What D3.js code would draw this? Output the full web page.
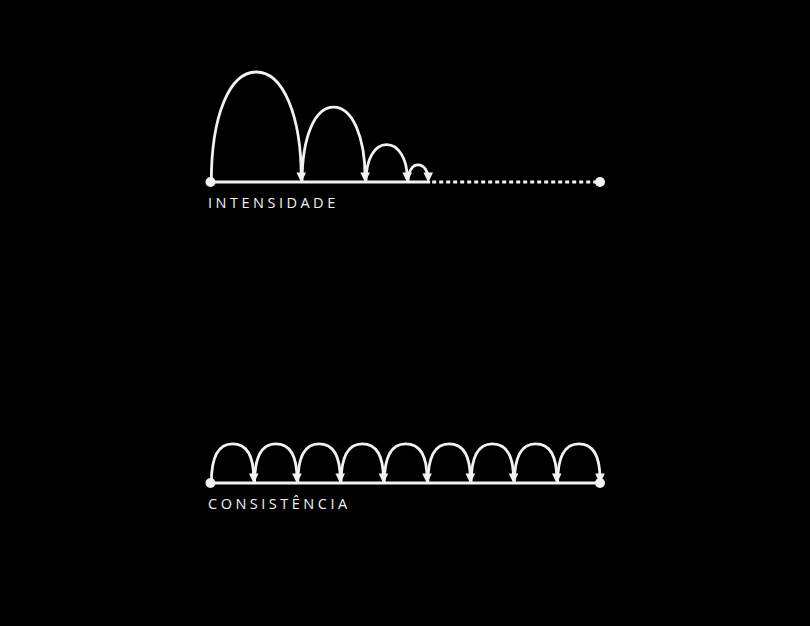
<!DOCTYPE html>
<html>
<head>
<meta charset="utf-8">
<script src="https://cdn.jsdelivr.net/npm/d3@7"></script>
<style>
  html, body { margin: 0; padding: 0; background: #000; }
  svg { display: block; }
  .label { fill: #f4f4f4; font-family: 'Open Sans', sans-serif; font-size: 14.5px; letter-spacing: 3.5px; }
</style>
</head>
<body>
<div id="chart"></div>
<script>
// Posições (0–100 ao longo da linha) onde cada salto termina
const intensityLandings = [23.3, 39.7, 50.5, 55.9];
// Altura de cada salto (0–100)
const intensityHeights = [100, 68, 34, 15.5];
// Fim da parte sólida da linha da intensidade
const intensitySolidEnd = [56.4];

const consistencyLandings = [11.1, 22.2, 33.3, 44.4, 55.6, 66.7, 77.8, 88.9, 100];
const consistencyHeights = [35.5, 35.5, 35.5, 35.5, 35.5, 35.5, 35.5, 35.5, 35.5];

const labels = ['INTENSIDADE', 'CONSISTÊNCIA'];

const width = 810;
const height = 626;
const color = '#f2f2f2';

const svg = d3.select('#chart')
  .append('svg')
  .attr('width', width)
  .attr('height', height);

svg.append('rect')
  .attr('width', width)
  .attr('height', height)
  .attr('fill', '#000');

const x = d3.scaleLinear().domain([0, 100]).range([210.5, 600]);

// arco: k controla o quanto o topo é arredondado
function arcPath(x0, x1, yBase, yTop, k) {
  const xm = (x0 + x1) / 2;
  const rx = (x1 - x0) / 2;
  const h = yBase - yTop;
  return `M${x0},${yBase}`
    + ` C${x0},${yBase - h * k} ${xm - rx * k},${yTop} ${xm},${yTop}`
    + ` C${xm + rx * k},${yTop} ${x1},${yBase - h * k} ${x1},${yBase - 4}`;
}

function drawRow({ baseY, landings, heights, solidEnd, label, k }) {
  const y = d3.scaleLinear().domain([0, 100]).range([baseY, baseY - 110]);
  const g = svg.append('g');
  const lastX = solidEnd !== null ? solidEnd : 100;

  // linha base sólida
  g.append('line')
    .attr('x1', x(0)).attr('x2', x(lastX))
    .attr('y1', y(0)).attr('y2', y(0))
    .attr('stroke', color)
    .attr('stroke-width', 2.8);

  // resto pontilhado
  if (solidEnd !== null) {
    g.append('line')
      .attr('x1', x(lastX) + 2).attr('x2', x(100))
      .attr('y1', y(0)).attr('y2', y(0))
      .attr('stroke', color)
      .attr('stroke-width', 2.8)
      .attr('stroke-dasharray', '4,3');
  }

  // arcos
  const starts = [0, ...landings.slice(0, -1)];
  g.selectAll('path.arc')
    .data(landings)
    .enter()
    .append('path')
    .attr('class', 'arc')
    .attr('fill', 'none')
    .attr('stroke', color)
    .attr('stroke-width', 2.8)
    .attr('d', (d, i) => arcPath(x(starts[i]) + 0.8, x(d), y(0), y(heights[i]), k));

  // pontas de seta
  g.selectAll('path.head')
    .data(landings)
    .enter()
    .append('path')
    .attr('class', 'head')
    .attr('fill', color)
    .attr('d', (d) => {
      const cx = x(d);
      const tip = y(0) + 0.5;
      return `M${cx - 4.8},${tip - 10} L${cx + 4.8},${tip - 10} L${cx},${tip} Z`;
    });

  // pontos
  g.selectAll('circle')
    .data([0, 100])
    .enter()
    .append('circle')
    .attr('cx', (d) => x(d))
    .attr('cy', y(0))
    .attr('r', 5)
    .attr('fill', color);

  g.append('text')
    .attr('class', 'label')
    .attr('x', 208)
    .attr('y', baseY + 25.5)
    .text(label);
}

drawRow({
  baseY: 182,
  landings: intensityLandings,
  heights: intensityHeights,
  solidEnd: intensitySolidEnd[0],
  label: labels[0],
  k: 0.6,
});

drawRow({
  baseY: 483,
  landings: consistencyLandings,
  heights: consistencyHeights,
  solidEnd: null,
  label: labels[1],
  k: 0.68,
});
</script>
</body>
</html>
